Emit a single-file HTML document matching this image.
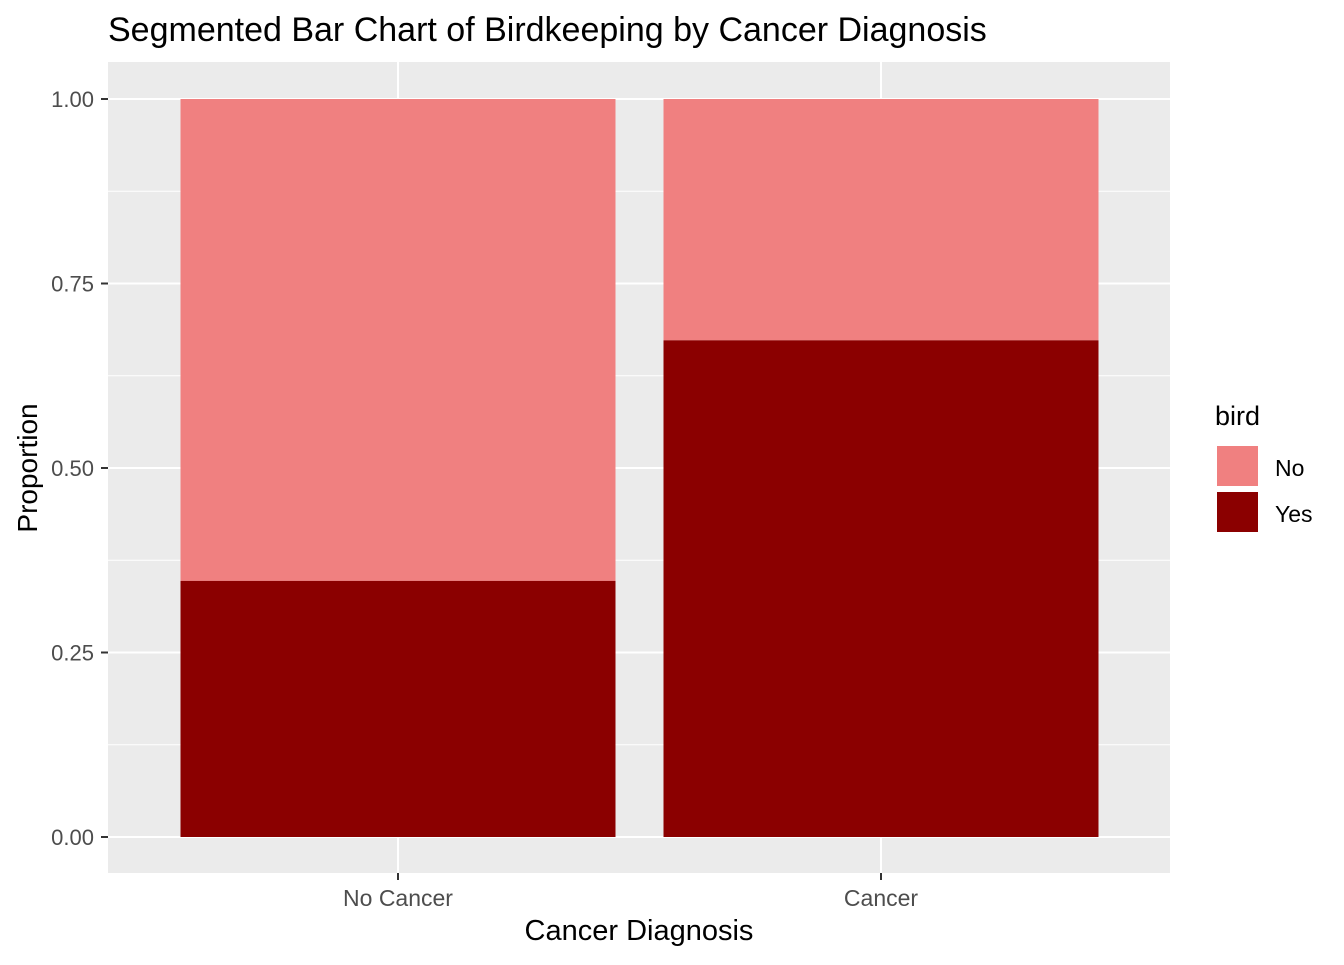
<!DOCTYPE html>
<html><head><meta charset="utf-8"><style>
body{margin:0;background:#fff;font-family:"Liberation Sans",Arial,sans-serif}
</style></head><body>
<svg width="1344" height="960" xmlns="http://www.w3.org/2000/svg" font-family="Liberation Sans, Arial, sans-serif">
<text x="108" y="41" font-size="34" fill="#000">Segmented Bar Chart of Birdkeeping by Cancer Diagnosis</text>
<rect x="108" y="62" width="1062" height="811" fill="#ebebeb"/>
<g id="grid"></g>
<g id="bars"></g>
<g id="axes"></g>
<text x="639" y="940" font-size="29" text-anchor="middle">Cancer Diagnosis</text>
<text transform="translate(37,468) rotate(-90)" font-size="28" text-anchor="middle">Proportion</text>
<text x="1215" y="425" font-size="27">bird</text>
<g><rect x="1216" y="445" width="43" height="42" fill="#f08080" stroke="#fff" stroke-width="2"/><text x="1275" y="476" font-size="23">No</text></g>
<g><rect x="1216" y="491" width="43" height="42" fill="#8b0000" stroke="#fff" stroke-width="2"/><text x="1275" y="522" font-size="23">Yes</text></g>
</svg>
<script>
const categories=["No Cancer","Cancer"];
const yesValues=[0.347,0.673];
const noValues=[0.653,0.327];
const yTicks=[0,0.25,0.5,0.75,1];
const yTickLabels=["0.00","0.25","0.50","0.75","1.00"];
const NS="http://www.w3.org/2000/svg";
const y=v=>837-v*738;
const xc=i=>398+i*483;
const bw=435;
function mk(t,a,p){const e=document.createElementNS(NS,t);for(const k in a)e.setAttribute(k,a[k]);p.appendChild(e);return e;}
const grid=document.getElementById('grid'),bars=document.getElementById('bars'),axes=document.getElementById('axes');
for(let i=0;i<yTicks.length-1;i++){const m=(yTicks[i]+yTicks[i+1])/2;const l=mk('line',{x1:108,x2:1170,y1:y(m),y2:y(m),stroke:'#fff','stroke-width':1},grid);

}
yTicks.forEach((t,i)=>{const l=mk('line',{x1:108,x2:1170,y1:y(t),y2:y(t),stroke:'#fff','stroke-width':2},grid);


mk('line',{x1:101,x2:108,y1:y(t),y2:y(t),stroke:'#333','stroke-width':2},axes);
const tx=mk('text',{x:94,y:y(t)+8,'font-size':22,'text-anchor':'end',fill:'#4d4d4d'},axes);tx.textContent=yTickLabels[i];

});
categories.forEach((c,i)=>{const l=mk('line',{x1:xc(i),x2:xc(i),y1:62,y2:873,stroke:'#fff','stroke-width':2},grid);


const r1=mk('rect',{x:xc(i)-bw/2,y:y(yesValues[i]+noValues[i]),width:bw,height:y(yesValues[i])-y(yesValues[i]+noValues[i]),fill:'#f08080'},bars);


const r2=mk('rect',{x:xc(i)-bw/2,y:y(yesValues[i]),width:bw,height:y(0)-y(yesValues[i]),fill:'#8b0000'},bars);


mk('line',{x1:xc(i),x2:xc(i),y1:873,y2:880,stroke:'#333','stroke-width':2},axes);
const tx=mk('text',{x:xc(i),y:906,'font-size':23,'text-anchor':'middle',fill:'#4d4d4d'},axes);tx.textContent=c;

});
</script>
</body></html>
